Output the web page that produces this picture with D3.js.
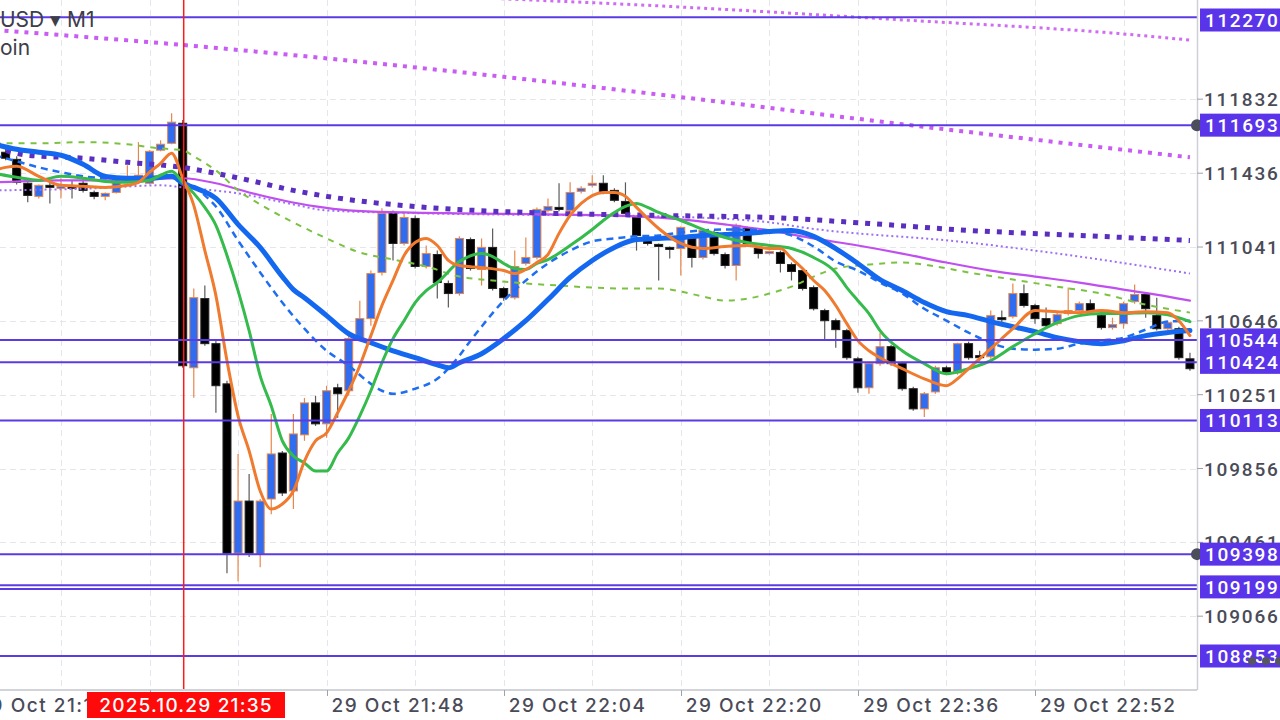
<!DOCTYPE html>
<html><head><meta charset="utf-8">
<script src="https://cdn.jsdelivr.net/npm/d3@7"></script>
<style>html,body{margin:0;padding:0;background:#fff;overflow:hidden}svg{display:block}</style>
</head><body><svg id="c" width="1280" height="720"></svg>
<script>
// ---------------- DATA ----------------
const symbolFull = "BTCUSD ▾ M1", symbolHidden = "BTC";
const nameFull = "Bitcoin", nameHidden = "Bitc";
const firstCandleTime = "21:19";
const opens = [111548,111510,111382,111312,111371,111355,111366,111382,111333,111312,111333,111398,111409,111382,111559,111596,111703,110395,110765,110524,110309,109403,109682,109398,109693,109939,109736,110036,110207,110095,110288,110272,110551,110658,110905,111221,111060,111194,110937,111001,110846,
110792,111081,110921,111039,110819,110770,110953,110985,111237,111253,111237,111339,111371,111382,111344,111285,111199,111087,111055,111039,111033,111087,110985,111119,111001,110942,111140,111033,111006,111012,110947,110915,110824,110701,110647,110594,110443,110288,110417,110508,110417,110283,110175,110266,110395,110368,110524,110460,110454,110663,110669,110792,110728,110658,110631,110685,110701,110738,110674,110610,
110631,110749,110787,110674,110604,110604,110443];
const highs = [111569,111526,111387,111376,111387,111409,111398,111398,111344,111333,111409,111478,111602,111559,111612,111757,111720,110819,110835,110540,110325,109934,109827,109693,110148,109950,110148,110234,110245,110299,110309,110567,110754,110915,111248,111237,111226,111210,111049,111022,110862,
111098,111092,111087,111140,110829,111022,111092,111253,111301,111382,111387,111366,111425,111425,111355,111387,111210,111098,111060,111044,111151,111098,111140,111130,111012,111167,111151,111044,111022,111022,110958,110926,110835,110711,110658,110604,110454,110427,110583,110518,110427,110293,110266,110406,110406,110529,110535,110486,110701,110701,110846,110840,110738,110717,110690,110824,110749,110760,110685,110663,
110749,110840,110797,110770,110647,110615,110476];
const lows = [111505,111376,111280,111301,111274,111301,111301,111333,111296,111291,111328,111382,111398,111376,111553,111591,110395,110234,110513,110154,109296,109253,109382,109328,109612,109709,109639,110004,110084,110020,110127,110245,110540,110620,110888,110969,111049,110926,110926,110765,110717,
110781,110915,110835,110808,110754,110760,110942,110974,111226,111232,111226,111328,111360,111323,111280,111210,111022,111049,110862,110980,110888,110931,110974,110996,110926,110862,111049,110980,111001,110905,110862,110808,110701,110545,110502,110438,110261,110256,110406,110406,110272,110165,110132,110256,110358,110358,110438,110433,110443,110631,110658,110717,110631,110610,110620,110674,110690,110685,110599,110599,
110604,110738,110663,110594,110577,110438,110379];
const closes = [111516,111387,111317,111371,111366,111366,111355,111344,111312,111328,111398,111409,111425,111553,111591,111709,110406,110770,110524,110299,109403,109682,109403,109682,109934,109725,110041,110207,110095,110272,110256,110551,110658,110899,111221,111060,111199,110937,111006,110851,110792,
111087,110926,111039,110819,110770,110937,110985,111242,111258,111242,111333,111355,111382,111333,111291,111221,111103,111060,111044,111033,111146,110985,111130,111006,110942,111157,111060,111006,111017,110953,110910,110819,110711,110647,110599,110449,110288,110417,110508,110417,110283,110175,110256,110395,110368,110524,110449,110449,110674,110658,110792,110728,110658,110620,110679,110701,110738,110695,110610,110626,
110738,110787,110711,110604,110636,110449,110390];

const maOrange = [["21:18",111451],["21:19",111467],["21:20",111473],["21:22",111419],["21:24",111371],["21:26",111366],["21:28",111360],["21:30",111371],["21:31",111387],["21:32",111441],["21:33",111489],["21:34",111543],["21:35",111409],["21:36",111264],["21:37",111022],["21:38",110781],["21:39",110433],["21:40",110138],["21:41",109950],["21:42",109736],["21:43",109639],["21:44",109666],["21:45",109736],["21:46",109896],["21:47",110004],["21:48",110047],["21:49",110154],["21:50",110272],["21:51",110406],["21:52",110567],["21:53",110728],["21:54",110862],["21:55",110996],["21:56",111065],["21:57",111087],["21:58",111049],["21:59",110969],["22:00",110942],["22:02",110931],["22:04",110915],["22:05",110899],["22:06",110921],["22:07",110958],["22:08",111001],["22:09",111114],["22:10",111210],["22:11",111274],["22:13",111333],["22:14",111333],["22:15",111312],["22:16",111253],["22:17",111194],["22:18",111140],["22:20",111060],["22:22",111033],["22:24",111044],["22:26",111049],["22:28",111033],["22:29",111033],["22:30",110980],["22:31",110926],["22:32",110862],["22:33",110808],["22:34",110728],["22:35",110631],["22:36",110540],["22:37",110486],["22:38",110449],["22:40",110390],["22:42",110336],["22:44",110299],["22:45",110336],["22:46",110390],["22:48",110497],["22:50",110604],["22:52",110701],["22:54",110695],["22:56",110690],["22:58",110701],["23:00",110690],["23:02",110695],["23:04",110690],["23:05",110647],["23:06",110567]];
const maGreen = [["21:18",111435],["21:20",111414],["21:22",111398],["21:24",111419],["21:26",111409],["21:28",111392],["21:30",111387],["21:32",111398],["21:33",111425],["21:34",111446],["21:35",111387],["21:36",111328],["21:37",111253],["21:38",111157],["21:39",110996],["21:40",110808],["21:41",110594],["21:42",110352],["21:43",110191],["21:44",110004],["21:45",109923],["21:46",109886],["21:47",109843],["21:48",109843],["21:49",109939],["21:50",110020],["21:51",110138],["21:52",110272],["21:53",110422],["21:54",110551],["21:55",110647],["21:56",110744],["21:57",110808],["21:58",110851],["22:00",110963],["22:02",111006],["22:03",110990],["22:04",110953],["22:05",110926],["22:06",110921],["22:07",110953],["22:08",110974],["22:10",111049],["22:12",111135],["22:13",111183],["22:14",111226],["22:15",111258],["22:16",111274],["22:17",111253],["22:18",111226],["22:20",111183],["22:22",111135],["22:24",111092],["22:26",111065],["22:28",111049],["22:30",111033],["22:32",110985],["22:34",110905],["22:35",110824],["22:36",110754],["22:37",110685],["22:38",110594],["22:40",110486],["22:42",110417],["22:44",110363],["22:46",110390],["22:48",110433],["22:50",110508],["22:52",110577],["22:54",110636],["22:56",110674],["22:58",110685],["23:00",110685],["23:02",110690],["23:04",110679],["23:06",110642]];
const maBlue = [["21:18",111591],["21:20",111564],["21:22",111548],["21:24",111532],["21:26",111484],["21:28",111419],["21:30",111409],["21:32",111409],["21:34",111419],["21:35",111382],["21:36",111360],["21:38",111301],["21:40",111162],["21:42",111039],["21:44",110883],["21:45",110813],["21:46",110770],["21:48",110674],["21:50",110577],["21:52",110529],["21:54",110486],["21:56",110449],["21:58",110411],["21:59",110395],["22:00",110422],["22:02",110470],["22:04",110551],["22:06",110647],["22:08",110760],["22:10",110878],["22:12",110969],["22:14",111039],["22:16",111081],["22:18",111087],["22:20",111092],["22:22",111103],["22:24",111108],["22:26",111114],["22:28",111124],["22:30",111130],["22:31",111119],["22:32",111098],["22:34",111033],["22:36",110953],["22:38",110867],["22:40",110808],["22:42",110744],["22:44",110695],["22:46",110674],["22:48",110642],["22:50",110615],["22:52",110588],["22:54",110556],["22:56",110535],["22:58",110524],["23:00",110540],["23:02",110567],["23:04",110583],["23:06",110594]];
const maBlueDash = [["21:18",111532],["21:20",111500],["21:22",111467],["21:24",111441],["21:26",111419],["21:28",111409],["21:30",111403],["21:32",111403],["21:34",111414],["21:35",111387],["21:36",111366],["21:37",111317],["21:38",111258],["21:40",111076],["21:42",110905],["21:44",110744],["21:46",110604],["21:48",110486],["21:50",110406],["21:52",110309],["21:53",110272],["21:54",110256],["21:56",110283],["21:58",110336],["22:00",110460],["22:01",110540],["22:02",110615],["22:04",110754],["22:06",110862],["22:08",110953],["22:10",111022],["22:12",111071],["22:14",111087],["22:16",111098],["22:18",111103],["22:20",111119],["22:22",111130],["22:24",111135],["22:28",111130],["22:30",111103],["22:32",111044],["22:34",110963],["22:36",110915],["22:38",110851],["22:40",110792],["22:42",110711],["22:44",110647],["22:46",110583],["22:48",110529],["22:50",110497],["22:52",110492],["22:54",110497],["22:56",110524],["22:58",110540],["23:00",110556],["23:02",110599],["23:04",110642],["23:06",110647]];
const maGreenDash = [["21:18",111596],["21:22",111596],["21:26",111602],["21:30",111591],["21:32",111575],["21:34",111564],["21:35",111559],["21:36",111526],["21:38",111451],["21:40",111344],["21:42",111269],["21:45",111173],["21:48",111087],["21:51",111012],["21:54",110974],["21:57",110937],["22:00",110883],["22:03",110862],["22:06",110846],["22:09",110835],["22:12",110824],["22:15",110819],["22:18",110819],["22:20",110803],["22:22",110776],["22:24",110754],["22:26",110765],["22:28",110792],["22:30",110829],["22:32",110883],["22:34",110926],["22:37",110947],["22:40",110958],["22:43",110937],["22:46",110905],["22:50",110867],["22:54",110829],["22:58",110792],["23:02",110733],["23:06",110690]];
const maMagenta = [["21:18",111387],["21:24",111398],["21:30",111398],["21:35",111409],["21:38",111382],["21:41",111333],["21:44",111291],["21:47",111258],["21:50",111237],["21:55",111226],["22:00",111221],["22:08",111216],["22:16",111205],["22:20",111189],["22:24",111162],["22:28",111130],["22:32",111087],["22:36",111049],["22:40",111006],["22:44",110958],["22:48",110915],["22:52",110883],["22:56",110851],["23:00",110813],["23:04",110776],["23:06",110754]];
const maPurpleDot = [["21:18",111575],["21:21",111532],["21:26",111516],["21:30",111494],["21:35",111467],["21:38",111435],["21:41",111398],["21:45",111344],["21:48",111312],["21:57",111253],["22:06",111226],["22:18",111210],["22:28",111199],["22:37",111167],["22:46",111130],["22:56",111103],["23:06",111076]];
const maLavenderDot = [["21:18",111344],["21:27",111355],["21:33",111371],["21:35",111360],["21:40",111328],["21:45",111269],["21:48",111237],["21:57",111221],["22:18",111205],["22:28",111173],["22:31",111146],["22:46",111065],["22:56",110990],["23:06",110899]];
const maTopDot1 = [["21:18",112202],["21:35",112122],["22:00",111977],["22:20",111843],["22:40",111698],["23:06",111521]];
const maTopDot2 = [["22:00",112379],["22:20",112325],["22:40",112256],["23:00",112181],["23:06",112148]];

const xTickTimes = ["21:16","21:32","21:48","22:04","22:20","22:36","22:52"];
const xTickLabels = ["29 Oct 21:16","29 Oct 21:32","29 Oct 21:48","29 Oct 22:04","29 Oct 22:20","29 Oct 22:36","29 Oct 22:52"];
const yTickValues = [111832,111436,111041,110646,110251,109856,109461,109066];
const yTickLabels = ["111832.4","111436.9","111041.5","110646.0","110251.6","109856.1","109461.7","109066.2"];
const levelPrices = [112270,111693,110544,110424,110113,109398,109232,109212,108853];
const levelLabels = ["112270.0","111693.0","110544.0","110424.0","110113.5","109398.0","","109199.0","108853.0"];
const levelHandles = [false,true,false,false,false,true,false,false,false];
const crosshairTime = "21:35";
const crosshairLabel = "2025.10.29 21:35";

// ---------------- CHART ----------------
const svg = d3.select("#c");
const PR = 1197, PB = 690;
const FONT = "Inter, Roboto, 'Noto Sans', sans-serif";
const NUMFONT = "Roboto, 'Noto Sans', sans-serif";
const parseT = d3.timeParse("%H:%M");
const x = d3.scaleTime().domain([parseT("21:32"), parseT("22:52")]).range([149.5, 1035]);
const y = d3.scaleLinear().domain([108853, 112270]).range([656, 17.3]);

const t0 = parseT(firstCandleTime);
const candles = opens.map((o, i) => ({t: d3.timeMinute.offset(t0, i), o, h: highs[i], l: lows[i], c: closes[i]}));

svg.append("defs").append("clipPath").attr("id", "plot")
  .append("rect").attr("x", 0).attr("y", 0).attr("width", PR).attr("height", PB);
const plot = svg.append("g").attr("clip-path", "url(#plot)");

// grid
const gridTimes = d3.range(-2, 14).map(k => d3.timeMinute.offset(parseT("21:32"), 8 * k));
plot.append("g").selectAll("line").data(gridTimes).join("line")
  .attr("x1", d => Math.round(x(d)) + 0.5).attr("x2", d => Math.round(x(d)) + 0.5)
  .attr("y1", 0).attr("y2", PB)
  .attr("stroke", "#e4e6ec").attr("stroke-width", 1).attr("stroke-dasharray", "6,4");
plot.append("g").selectAll("line").data(yTickValues).join("line")
  .attr("x1", 0).attr("x2", PR)
  .attr("y1", d => Math.round(y(d)) + 0.5).attr("y2", d => Math.round(y(d)) + 0.5)
  .attr("stroke", "#e4e6ec").attr("stroke-width", 1).attr("stroke-dasharray", "6,4");

// candles
const cw = 8;
const cg = plot.append("g");
candles.forEach(d => {
  const up = d.c > d.o;
  const top = Math.max(d.o, d.c), bot = Math.min(d.o, d.c);
  const cx = x(d.t);
  cg.append("line").attr("x1", cx).attr("x2", cx)
    .attr("y1", y(Math.max(d.h, top))).attr("y2", y(Math.min(d.l, bot)))
    .attr("stroke", up ? "#e8864a" : "#5a5a5a").attr("stroke-width", 1.2);
  const y1 = y(top), y2 = y(bot);
  const hgt = Math.max(2, y2 - y1);
  cg.append("rect").attr("x", cx - cw / 2).attr("y", y1).attr("width", cw).attr("height", hgt)
    .attr("fill", up ? "#2f6cf0" : "#000")
    .attr("stroke", up ? "#e8864a" : "#222").attr("stroke-width", 1);
});

// moving averages
const lineGen = d3.line().x(d => x(parseT(d[0]))).y(d => y(d[1])).curve(d3.curveMonotoneX);
function drawMA(data, color, width, dash) {
  const p = plot.append("path").datum(data).attr("d", lineGen)
    .attr("fill", "none").attr("stroke", color).attr("stroke-width", width)
    .attr("stroke-linejoin", "round");
  if (dash) p.attr("stroke-dasharray", dash); else p.attr("stroke-linecap", "round");
}
drawMA(maTopDot1, "#c95cf2", 4, "4,6");
drawMA(maTopDot2, "#cf6cf2", 3, "3,4");
drawMA(maLavenderDot, "#9d6ff2", 2, "2,3");
drawMA(maMagenta, "#c04ff0", 2.2, null);
drawMA(maPurpleDot, "#5a2fc0", 5, "5,7");
drawMA(maGreenDash, "#7cc242", 2, "6,6");
drawMA(maBlueDash, "#1f6ef2", 2.5, "7,5");
drawMA(maBlue, "#1468f0", 5, null);
drawMA(maGreen, "#35bb4c", 3, null);
drawMA(maOrange, "#f07a2e", 3, null);

// levels
plot.append("g").selectAll("line").data(levelPrices).join("line")
  .attr("x1", 0).attr("x2", PR)
  .attr("y1", d => y(d)).attr("y2", d => y(d))
  .attr("stroke", "#5b3be3").attr("stroke-width", 2);

// crosshair
const chx = x(parseT(crosshairTime)) + 1;
svg.append("line").attr("x1", chx).attr("x2", chx).attr("y1", 0).attr("y2", PB)
  .attr("stroke", "#ff1a1a").attr("stroke-width", 1.5);

// frame
svg.append("line").attr("x1", 0).attr("x2", PR).attr("y1", PB).attr("y2", PB)
  .attr("stroke", "#d2d3d8").attr("stroke-width", 2);
svg.append("line").attr("x1", PR + 0.5).attr("x2", PR + 0.5).attr("y1", 0).attr("y2", PB)
  .attr("stroke", "#cfd0d5").attr("stroke-width", 1.5);

// x axis ticks and labels
svg.append("g").selectAll("line").data(xTickTimes).join("line")
  .attr("x1", d => Math.round(x(parseT(d))) + 0.5).attr("x2", d => Math.round(x(parseT(d))) + 0.5)
  .attr("y1", PB).attr("y2", PB + 6).attr("stroke", "#a0a2aa").attr("stroke-width", 1);
svg.append("g").selectAll("text").data(xTickTimes).join("text")
  .attr("x", d => x(parseT(d)) + 5).attr("y", 712)
  .attr("font-family", FONT).attr("font-size", 19).attr("font-weight", 500)
  .attr("letter-spacing", "1.5px").attr("fill", "#4a4b58")
  .text((d, i) => xTickLabels[i]);

// y axis ticks and labels
svg.append("g").selectAll("line").data(yTickValues).join("line")
  .attr("x1", PR).attr("x2", PR + 6)
  .attr("y1", d => y(d)).attr("y2", d => y(d)).attr("stroke", "#a0a2aa").attr("stroke-width", 1);
svg.append("g").selectAll("text").data(yTickValues).join("text")
  .attr("x", 1204).attr("y", d => y(d) + 7)
  .attr("font-family", NUMFONT).attr("font-size", 19).attr("font-weight", 500)
  .attr("letter-spacing", "1.8px").attr("fill", "#4a4b58")
  .text((d, i) => yTickLabels[i]);

// level handles
levelPrices.forEach((p, i) => {
  if (levelHandles[i]) svg.append("circle").attr("cx", 1197).attr("cy", y(p)).attr("r", 6).attr("fill", "#4b4c5c");
});
// level labels
levelPrices.forEach((p, i) => {
  if (!levelLabels[i]) return;
  const cy = Math.max(20, y(p) - (i === 7 ? 2 : 0));
  svg.append("rect").attr("x", 1200).attr("y", cy - 11.5).attr("width", 80).attr("height", 23).attr("fill", "#5a34e8");
  svg.append("text").attr("x", 1205).attr("y", cy + 7)
    .attr("font-family", NUMFONT).attr("font-size", 19).attr("font-weight", 500)
    .attr("letter-spacing", "1.6px").attr("fill", "#fff").text(levelLabels[i]);
});
// more-dots
[1252, 1266, 1279].forEach(cx => svg.append("circle").attr("cx", cx).attr("cy", 661).attr("r", 4).attr("fill", "#55565f"));

// crosshair time label
const lbl = svg.append("g");
lbl.append("rect").attr("x", 87).attr("y", 692).attr("width", 198).attr("height", 26).attr("fill", "#ff0a0a");
lbl.append("text").attr("x", 186).attr("y", 712).attr("text-anchor", "middle")
  .attr("font-family", FONT).attr("font-size", 19).attr("font-weight", 500)
  .attr("letter-spacing", "1.2px").attr("fill", "#fff").text(crosshairLabel);

// top-left title (partly off-canvas)
function clippedText(full, hidden, yy) {
  const probe = svg.append("text").attr("font-family", FONT).attr("font-size", 21).attr("font-weight", 400).text(hidden);
  const w = probe.node().getComputedTextLength();
  probe.remove();
  svg.append("text").attr("x", -w).attr("y", yy)
    .attr("font-family", FONT).attr("font-size", 21).attr("font-weight", 400).attr("fill", "#3d3e4a").text(full);
}
clippedText(symbolFull, symbolHidden, 27);
clippedText(nameFull, nameHidden, 55);
</script>
</body></html>
